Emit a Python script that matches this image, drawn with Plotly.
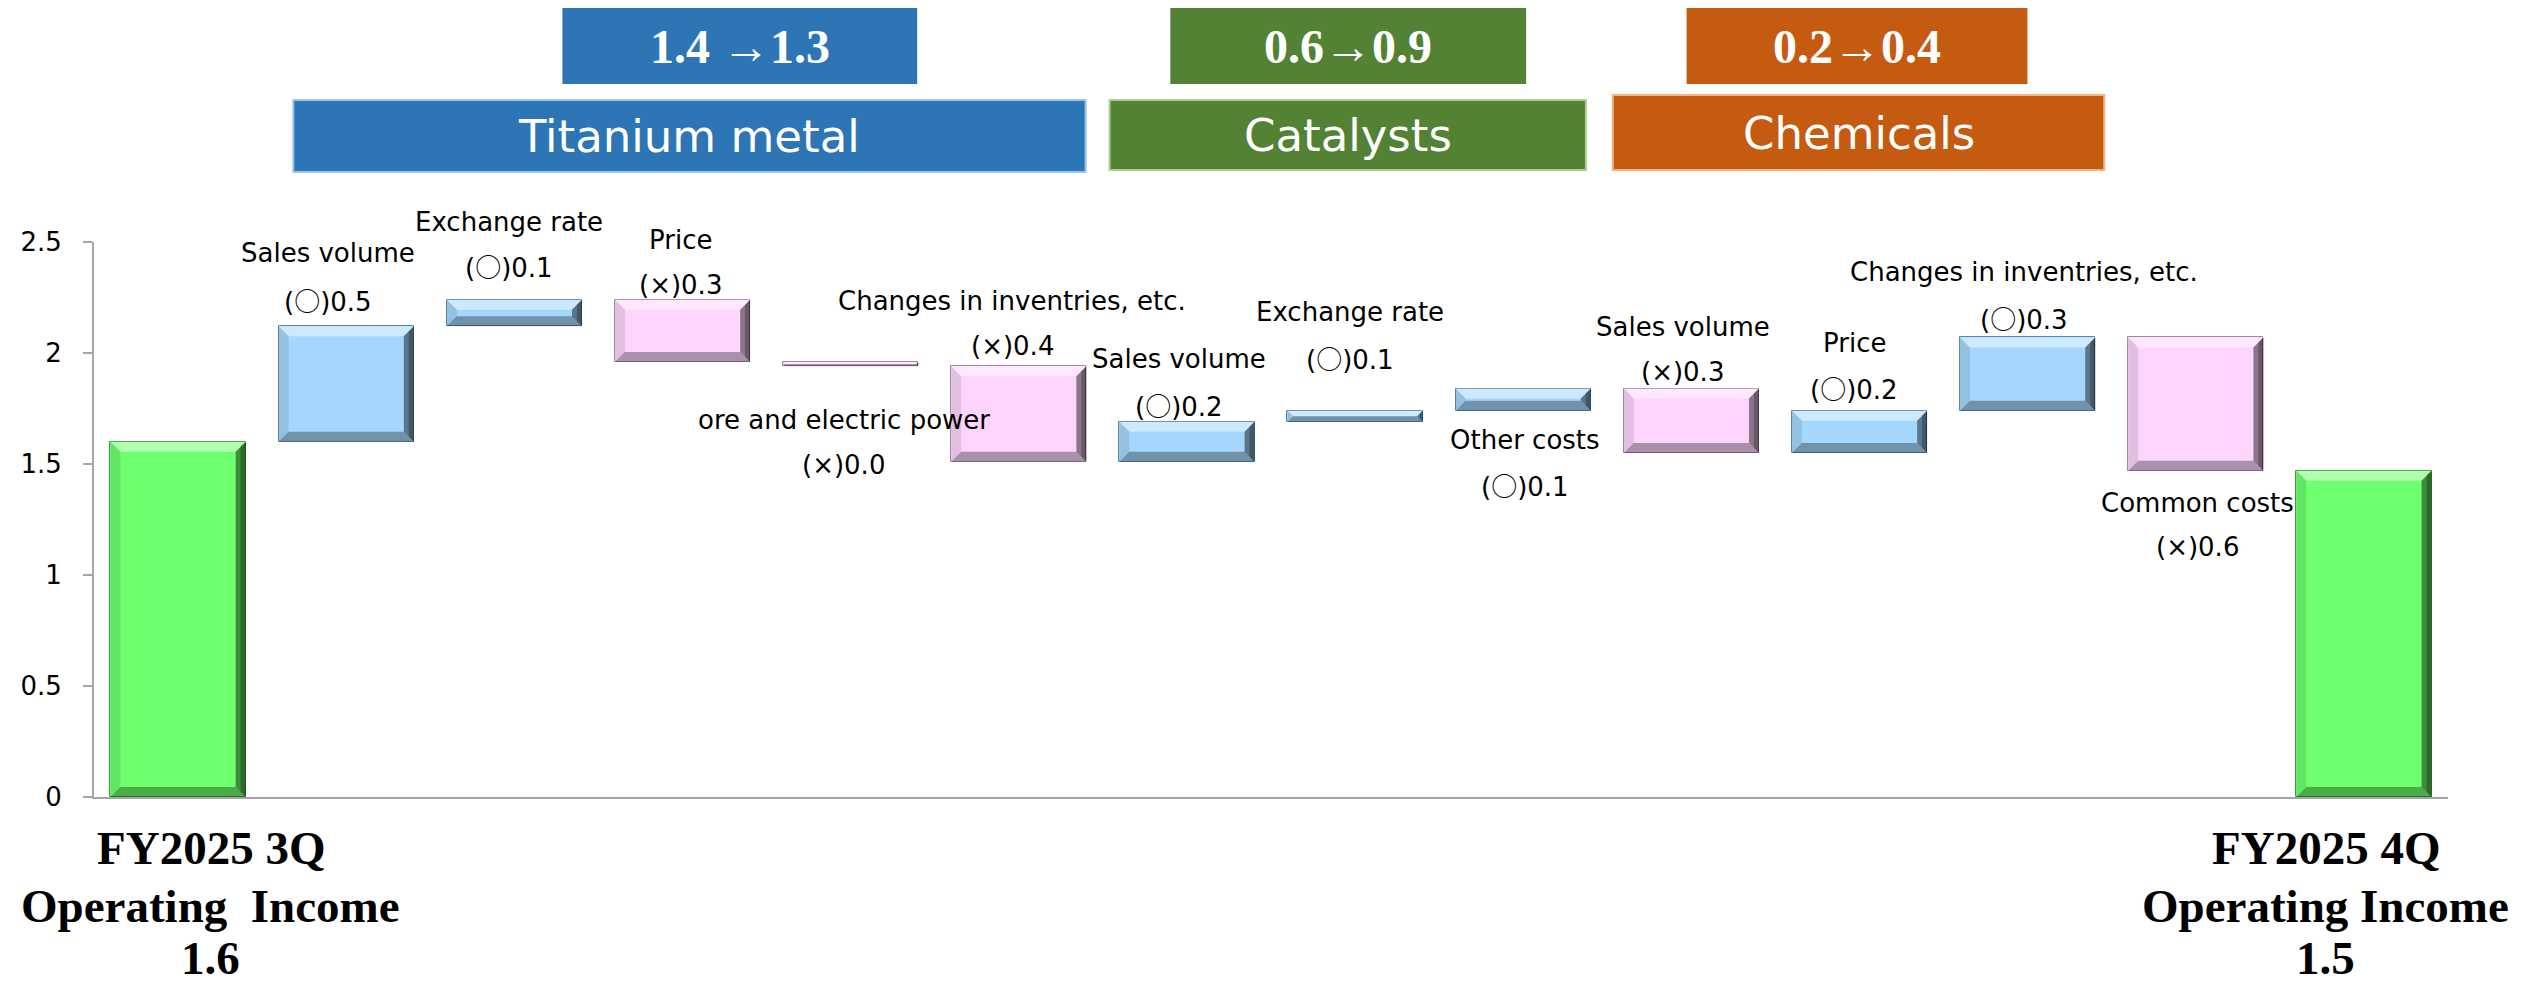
import plotly.graph_objects as go

# ---------------- data ----------------
categories = [
    "FY2025 3Q Operating Income",
    "Sales volume", "Exchange rate", "Price", "ore and electric power",
    "Changes in inventries, etc.",
    "Sales volume", "Exchange rate", "Other costs",
    "Sales volume", "Price", "Changes in inventries, etc.",
    "Common costs",
    "FY2025 4Q Operating Income",
]
start_value = 1.60
deltas = [0.52, 0.12, -0.28, -0.02, -0.43, 0.18, 0.05, 0.10, -0.29, 0.19, 0.33, -0.60]
end_value = 1.47
value_labels = ["(○)0.5", "(○)0.1", "(×)0.3", "(×)0.0", "(×)0.4", "(○)0.2",
                "(○)0.1", "(○)0.1", "(×)0.3", "(○)0.2", "(○)0.3", "(×)0.6"]
total_labels = [["FY2025 3Q", "Operating\u00a0 Income", "1.6"],
                ["FY2025 4Q", "Operating Income", "1.5"]]
segments = ["Titanium metal", "Catalysts", "Chemicals"]
segment_changes = ["1.4 →1.3", "0.6→0.9", "0.2→0.4"]
y_ticks = [0, 0.5, 1, 1.5, 2, 2.5]

# ---------------- layout constants (page pixels) ----------------
W, H = 2522, 988
OFF = 8                                # default body margin of the html page
PL, PR, PT, PB = 86, 2448, 242, 797    # plot area in page pixels
Y_MAX = 2.5
n = len(categories)
px_per_cat = (PR - PL) / n
px_per_unit = (PB - PT) / Y_MAX
BAR_W = 0.804

fill = {"total": "#6EFF6E", "inc": "#A5D7FC", "dec": "#FDD5FC"}
edge = {"total": "#3C9E3C", "inc": "#5E86AC", "dec": "#A587A5"}

# label placement (category offset, y of name line, y of value line) in data units
label_place = [
    (-0.11, 2.452, 2.242), (-0.03, 2.591, 2.393), (-0.01, 2.510, 2.308),
    (-0.04, 1.700, 1.497), (-0.04, 2.236, 2.033), (-0.05, 1.974, 1.767),
    (-0.03, 2.184, 1.979), (0.01, 1.609, 1.407), (-0.05, 2.118, 1.915),
    (-0.03, 2.046, 1.844), (-0.02, 2.364, 2.159), (0.01, 1.326, 1.127),
]

# ---------------- build bars ----------------
lows, highs, kinds = [0.0], [start_value], ["total"]
level = start_value
for d in deltas:
    lows.append(min(level, level + d))
    highs.append(max(level, level + d))
    kinds.append("inc" if d > 0 else "dec")
    level += d
lows.append(0.0)
highs.append(end_value)
kinds.append("total")

xs = list(range(n))
fig = go.Figure()
fig.add_trace(go.Bar(
    x=xs, y=[h - l for h, l in zip(highs, lows)], base=lows,
    width=BAR_W,
    marker=dict(color=[fill[k] for k in kinds],
                line=dict(color=[edge[k] for k in kinds], width=1)),
    hovertext=categories, hoverinfo="text",
    showlegend=False,
))

# bevel effect
shapes = []
for i, (lo, hi) in enumerate(zip(lows, highs)):
    x0, x1 = i - BAR_W / 2, i + BAR_W / 2
    hpx = (hi - lo) * px_per_unit
    b = min(10.0, hpx / 2)
    bx, by = b / px_per_cat, b / px_per_unit

    def poly(pts, color, op):
        d = "M " + " L ".join(f"{px},{py}" for px, py in pts) + " Z"
        shapes.append(dict(type="path", path=d, xref="x", yref="y",
                           fillcolor=color, opacity=op, line=dict(width=0),
                           layer="above"))
    poly([(x0, hi), (x1, hi), (x1 - bx, hi - by), (x0 + bx, hi - by)], "white", 0.45)
    poly([(x0, lo), (x1, lo), (x1 - bx, lo + by), (x0 + bx, lo + by)], "black", 0.32)
    poly([(x0, lo), (x0, hi), (x0 + bx, hi - by), (x0 + bx, lo + by)], "black", 0.10)
    poly([(x1, lo), (x1, hi), (x1 - bx, hi - by), (x1 - bx, lo + by)], "black", 0.45)
    bx2, by2 = bx / 2, by / 2
    poly([(x1, lo), (x1, hi), (x1 - bx2, hi - by2), (x1 - bx2, lo + by2)], "black", 0.25)


def pxp(px):
    return (px - PL) / (PR - PL)


def pyp(py):
    return (PB - py) / (PB - PT)


annotations = []
# header boxes
seg_colors = ["#2E75B6", "#548235", "#C55A11"]
seg_lines = ["#9DC3E6", "#A9D18E", "#F4B183"]
change_boxes = [(556, 912, 7, 84), (1166, 1523, 6, 84), (1684, 2026, 6, 84)]
name_boxes = [(286, 1081, 100, 172), (1105, 1583, 100, 170), (1610, 2103, 95, 170)]
for s, c, col, lcol, cb, nb in zip(segments, segment_changes, seg_colors, seg_lines,
                                   change_boxes, name_boxes):
    shapes.append(dict(type="rect", xref="paper", yref="paper",
                       x0=pxp(cb[0]), x1=pxp(cb[1]), y0=pyp(cb[3]), y1=pyp(cb[2]),
                       fillcolor=col, line=dict(width=0), layer="above"))
    shapes.append(dict(type="rect", xref="paper", yref="paper",
                       x0=pxp(nb[0]), x1=pxp(nb[1]), y0=pyp(nb[3]), y1=pyp(nb[2]),
                       fillcolor=col, line=dict(width=2, color=lcol), layer="above"))
    annotations.append(dict(text=f"<b>{c}</b>", xref="paper", yref="paper",
                            x=pxp((cb[0] + cb[1]) / 2), y=pyp((cb[2] + cb[3]) / 2 + 1),
                            showarrow=False, xanchor="center", yanchor="middle",
                            font=dict(family="Liberation Serif", size=48, color="white")))
    annotations.append(dict(text=s, xref="paper", yref="paper",
                            x=pxp((nb[0] + nb[1]) / 2), y=pyp((nb[2] + nb[3]) / 2 + 1),
                            showarrow=False, xanchor="center", yanchor="middle",
                            font=dict(family="DejaVu Sans", size=45, color="white")))

# bar labels
lab_font = dict(family="DejaVu Sans", size=26, color="black")
CIRCLE = "<span style=\"font-family:'Noto Sans CJK JP'\">○</span>"
for j, (vl, (dx, yn, yv)) in enumerate(zip(value_labels, label_place)):
    i = j + 1
    annotations.append(dict(text=categories[i], x=i + dx, y=yn / Y_MAX,
                            xref="x", yref="paper",
                            showarrow=False, font=lab_font,
                            xanchor="center", yanchor="middle"))
    annotations.append(dict(text=vl.replace("○", CIRCLE), x=i + dx, y=yv / Y_MAX,
                            xref="x", yref="paper",
                            showarrow=False, font=lab_font,
                            xanchor="center", yanchor="middle"))

# total labels under first and last bar
tot_font = dict(family="Liberation Serif", size=47, color="black")
line_py = [848, 906, 958]
for idx, dx, lines in [(0, 0.194, total_labels[0]), (n - 1, -0.228, total_labels[1])]:
    for t, py in zip(lines, line_py):
        annotations.append(dict(text=f"<b>{t}</b>", x=idx + dx, y=pyp(py),
                                xref="x", yref="paper", showarrow=False,
                                font=tot_font, xanchor="center", yanchor="middle"))

fig.update_layout(
    width=W - OFF, height=H - OFF, autosize=False,
    margin=dict(l=PL - OFF, r=W - PR, t=PT - OFF, b=H - PB, pad=0),
    paper_bgcolor="white", plot_bgcolor="white",
    bargap=0, shapes=shapes, annotations=annotations,
    xaxis=dict(range=[-0.5, n - 0.5], showticklabels=False, ticks="",
               showgrid=False, zeroline=False, showline=True,
               linecolor="#A6A6A6", linewidth=2, fixedrange=True),
    yaxis=dict(range=[0, Y_MAX], tickvals=y_ticks, ticks="outside", ticklen=9,
               tickcolor="#A6A6A6", tickwidth=2, showgrid=False, zeroline=False,
               showline=True, linecolor="#A6A6A6", linewidth=2,
               ticklabelstandoff=16,
               tickfont=dict(family="DejaVu Sans", size=26, color="black")),
)

fig.write_html("out.html")
